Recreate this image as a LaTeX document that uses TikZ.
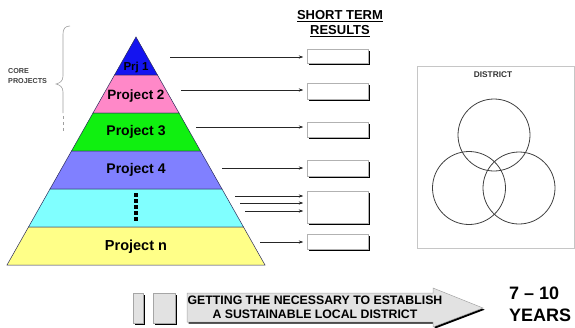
\documentclass[tikz,border=0pt]{standalone}
\usepackage{fontspec}
\setmainfont{Liberation Sans}
\usetikzlibrary{arrows.meta,shadows}
\definecolor{cprja}{HTML}{1414F0}
\definecolor{cprjb}{HTML}{FF88C8}
\definecolor{cprjc}{HTML}{10F010}
\definecolor{cprjd}{HTML}{8080FF}
\definecolor{cprje}{HTML}{80FFFF}
\definecolor{cprjf}{HTML}{FFFF88}
\definecolor{bandline}{HTML}{2A2A5A}
\definecolor{lightfill}{HTML}{E2E2E2}
\begin{document}
\begin{tikzpicture}[x=1pt,y=-1pt,
 band/.style={draw=bandline, line width=0.5pt},
 btext/.style={font=\bfseries\fontsize{#1}{#1}\selectfont, text=black, inner sep=0pt},
 resbox/.style={draw=gray!60, fill=white, line width=0.5pt, minimum width=61pt, inner sep=0pt,
   drop shadow={shadow xshift=1.7pt, shadow yshift=-1.7pt, fill=black, opacity=1}},
 greybox/.style={draw=gray!70, fill=lightfill, line width=0.5pt, inner sep=0pt,
   drop shadow={shadow xshift=1.7pt, shadow yshift=-1.7pt, fill=black, opacity=1}},
 conn/.style={draw=black!85, line width=0.5pt, -{Stealth[length=4.5pt,width=3.2pt]}, shorten >=4pt},
 bracestyle/.style={draw=gray!75, line width=0.6pt},
 ]
\useasboundingbox (0,0) rectangle (575,327);

% pyramid bands
\filldraw[band, fill=cprja] (136,37) -- (157.5,75) -- (114.5,75) -- cycle;
\filldraw[band, fill=cprjb] (114.5,75) -- (157.5,75) -- (179,113) -- (93,113) -- cycle;
\filldraw[band, fill=cprjc] (93,113) -- (179,113) -- (200.5,151) -- (71.5,151) -- cycle;
\filldraw[band, fill=cprjd] (71.5,151) -- (200.5,151) -- (222,189) -- (50,189) -- cycle;
\filldraw[band, fill=cprje] (50,189) -- (222,189) -- (243.5,227) -- (28.5,227) -- cycle;
\filldraw[band, fill=cprjf] (28.5,227) -- (243.5,227) -- (265,265) -- (7,265) -- cycle;

\node[btext=11.5] (p1) at (136,68) {Prj 1};
\node[btext=13.5] (p2) at (136,96) {Project 2};
\node[btext=14] (p3) at (136,132) {Project 3};
\node[btext=14] (p4) at (136,170) {Project 4};
\node[btext=14.5] (pn) at (136,247) {Project n};
\foreach \yy [count=\i] in {195,201,207,213,219}
  \node[fill=black, minimum size=4pt, inner sep=0pt] (dot\i) at (136,\yy) {};

% core projects brace
\node[font=\bfseries\fontsize{7.2}{10}\selectfont, text=black!75, align=left, anchor=north west, inner sep=0pt] (core) at (8,68) {CORE\\PROJECTS};
\draw[bracestyle] (70,26) .. controls (65,26) and (63,29) .. (63,34) -- (63,76)
  .. controls (63,81) and (60,83) .. (56,84) .. controls (60,85) and (63,87) .. (63,92) -- (63,113);
\draw[bracestyle, dash pattern=on 3pt off 3pt] (63,116) -- (63,134);

% heading
\node[font=\bfseries\fontsize{13}{15}\selectfont, align=center, inner sep=0pt] (head) at (340,23.5) {\underline{SHORT TERM}\\\underline{RESULTS}};

% result boxes
\node[resbox, minimum height=14pt] (b1) at (338,56) {};
\node[resbox, minimum height=16pt] (b2) at (338,91) {};
\node[resbox, minimum height=15pt] (b3) at (338,129.5) {};
\node[resbox, minimum height=16pt] (b4) at (338,168) {};
\node[resbox, minimum height=32pt] (b5) at (338,207) {};
\node[resbox, minimum height=15pt] (b6) at (338,241.5) {};

% arrow starts
\coordinate (s1) at (170,57);
\coordinate (s2) at (181,90);
\coordinate (s3) at (196,127);
\coordinate (s4) at (222,168);
\coordinate (s5a) at (235,196);
\coordinate (s5b) at (240,203);
\coordinate (s5c) at (245,211);
\coordinate (s6) at (260,242);
\draw[conn] (s1) -- (s1 -| b1.west);
\draw[conn] (s2) -- (s2 -| b2.west);
\draw[conn] (s3) -- (s3 -| b3.west);
\draw[conn] (s4) -- (s4 -| b4.west);
\draw[conn] (s5a) -- (s5a -| b5.west);
\draw[conn] (s5b) -- (s5b -| b5.west);
\draw[conn] (s5c) -- (s5c -| b5.west);
\draw[conn] (s6) -- (s6 -| b6.west);

% district
\node[draw=gray!45, line width=0.6pt, minimum width=157pt, minimum height=182pt, inner sep=0pt] (district) at (495.5,157) {};
\node[font=\bfseries\fontsize{8.3}{8.3}\selectfont, text=black!80, inner sep=0pt] (dlabel) at (493,75) {DISTRICT};
\draw[black!75, line width=0.8pt] (494,135) circle[radius=36];
\draw[black!75, line width=0.8pt] (469,188) circle[radius=36.5];
\draw[black!75, line width=0.8pt] (519,188) circle[radius=36];

% bottom row
\node[greybox, minimum width=10pt, minimum height=30pt] (sq1) at (138,308) {};
\node[greybox, minimum width=22pt, minimum height=30pt] (sq2) at (164,308) {};
\fill[black] ([shift={(1.7,1.7)}]187,293) -- ++(246,0) -- ++(0,-5) -- ++(50,20) -- ++(-50,19) -- ++(0,-5) -- ++(-246,0) -- cycle;
\filldraw[draw=gray!70, fill=lightfill, line width=0.5pt] (187,293) -- (433,293) -- (433,288) -- (483,308) -- (433,327) -- (433,322) -- (187,322) -- cycle;
\node[font=\bfseries\fontsize{12.3}{14.5}\selectfont, align=center, inner sep=0pt] (atext) at (315,307.5) {GETTING THE NECESSARY TO ESTABLISH\\A SUSTAINABLE LOCAL DISTRICT};
\node[font=\bfseries\fontsize{18}{22}\selectfont, align=left, anchor=west, inner sep=0pt] (years) at (509,304) {7 -- 10\\YEARS};
\end{tikzpicture}
\end{document}
